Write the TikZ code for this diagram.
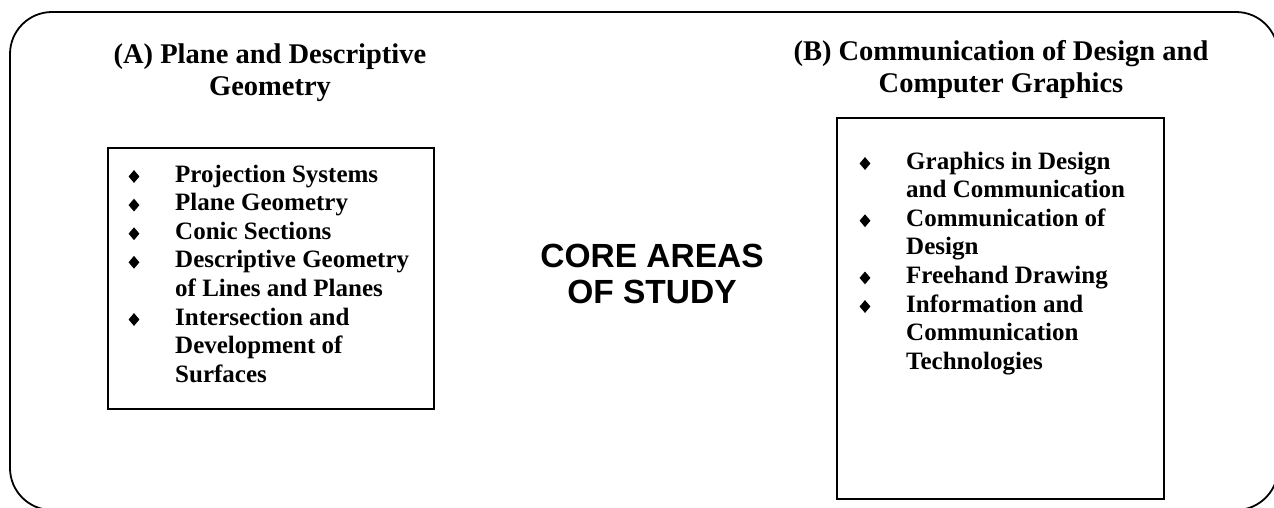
\documentclass[tikz,border=0pt]{standalone}
\usepackage{fontspec}
\setmainfont{Liberation Serif}
\newfontfamily\arialfont{Liberation Sans}
\usetikzlibrary{shapes.geometric}
\begin{document}
\begin{tikzpicture}[x=1pt,y=-1pt,
  frame/.style={draw, line width=1.8pt, rounded corners=42pt},
  listbox/.style={draw, line width=1.5pt},
  ttl/.style={font=\fontsize{28.5}{32}\selectfont\bfseries, inner sep=0, anchor=base},
  item/.style={font=\fontsize{25}{28.6}\selectfont\bfseries, inner sep=0, anchor=base west},
  bul/.style={diamond, fill=black, inner sep=0, minimum width=11pt, minimum height=13pt},
  core/.style={font=\arialfont\fontsize{33.5}{36}\selectfont\bfseries, inner sep=0, anchor=base}]
\clip (0,0) rectangle (1274,507);
\draw[frame] (10,12) rectangle (1278,510);
% boxes
\node[listbox, minimum width=326pt, minimum height=261pt, inner sep=0, anchor=north west] (boxA) at (107,147) {};
\node[listbox, minimum width=327pt, minimum height=381pt, inner sep=0, anchor=north west] (boxB) at (836,117) {};
% titles
\node[ttl] (titleA) at (270,63) {\parbox[t]{420pt}{\centering (A) Plane and Descriptive\\Geometry}};
\node[ttl] (titleB) at (1001,60) {\parbox[t]{470pt}{\centering (B) Communication of Design and\\Computer Graphics}};
% core
\node[core] (core) at (652,267) {\parbox[t]{300pt}{\centering CORE AREAS\\OF STUDY}};
% list A
\node[item] (a1) at (175,182) {Projection Systems};
\node[item] (a2) at (175,210.6) {Plane Geometry};
\node[item] (a3) at (175,239.2) {Conic Sections};
\node[item] (a4) at (175,267.8) {\parbox[t]{260pt}{Descriptive Geometry\\of Lines and Planes}};
\node[item] (a5) at (175,325) {\parbox[t]{260pt}{Intersection and\\Development of\\Surfaces}};
\foreach \n/\y in {1/182,2/210.6,3/239.2,4/267.8,5/325}
  \node[bul] (ba\n) at (134,\y-5.5) {};
% list B
\node[item] (b1) at (906,169) {\parbox[t]{260pt}{Graphics in Design\\and Communication}};
\node[item] (b2) at (906,226.2) {\parbox[t]{260pt}{Communication of\\Design}};
\node[item] (b3) at (906,283.4) {Freehand Drawing};
\node[item] (b4) at (906,312) {\parbox[t]{260pt}{Information and\\Communication\\Technologies}};
\foreach \n/\y in {1/169,2/226.2,3/283.4,4/312}
  \node[bul] (bb\n) at (865,\y-5.5) {};
\end{tikzpicture}
\end{document}
